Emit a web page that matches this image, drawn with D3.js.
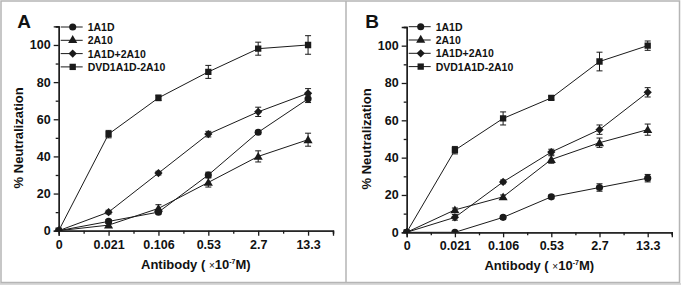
<!DOCTYPE html>
<html lang="en">
<head>
  <meta charset="utf-8" />
  <title>Neutralization panels</title>
  <script type="text/javascript" src="https://cdn.jsdelivr.net/npm/d3@7"></script>
  <style type="text/css">
    body { margin: 0; background: white; }
    text { font-family: "Liberation Sans", Arial, sans-serif; font-weight: bold; fill: #111; }
  </style>
</head>
<body>

<script type="text/javascript">

// doses on the x axis (evenly spaced categories)
var doses = ["0", "0.021", "0.106", "0.53", "2.7", "13.3"];
var seriesNames = ["1A1D", "2A10", "1A1D+2A10", "DVD1A1D-2A10"];
var markerShapes = ["circle", "triangle", "diamond", "square"];
var yTicks = [0, 20, 40, 60, 80, 100];

// panel A
var a1A1D      = [0, 5, 10, 30, 53, 71];
var a1A1DErr   = [0, 1, 1, 1.5, 1, 2];
var a2A10      = [0, 3, 12, 26, 40, 49];
var a2A10Err   = [0, 1, 2, 2.5, 3, 3.5];
var aCombo     = [0, 10, 31, 52, 64, 74];
var aComboErr  = [0, 1, 1, 1.5, 2.5, 2.5];
var aDvd       = [0, 52, 71.5, 85.5, 98, 100];
var aDvdErr    = [0, 2, 1.5, 3.5, 3.5, 5];

// panel B
var b1A1D      = [0, 0, 8, 19, 24, 29];
var b1A1DErr   = [0, 0, 1, 1, 2, 2];
var b2A10      = [0, 12, 19, 39, 48, 55];
var b2A10Err   = [0, 1, 1, 2, 2.5, 3];
var bCombo     = [0, 8, 27, 43, 55, 75];
var bComboErr  = [0, 1.5, 1, 1.5, 2.5, 2.5];
var bDvd       = [0, 44, 61, 72, 91.5, 100];
var bDvdErr    = [0, 2, 3.5, 1, 5, 2.5];

var w = 681;
var h = 285;
var ink = "#1a1a1a";

var svg = d3.select("body")
            .append("svg")
            .attr("width", w)
            .attr("height", h);

// frame round the two panels
svg.append("rect").attr("x", 0).attr("y", 283).attr("width", w).attr("height", 2).attr("fill", "#d8d8d8");
svg.append("rect")
   .attr("x", 1).attr("y", 1).attr("width", 678.5).attr("height", 281.5)
   .attr("fill", "none").attr("stroke", "#b5b5b5").attr("stroke-width", 1.5);
svg.append("line")
   .attr("x1", 346).attr("x2", 346).attr("y1", 1).attr("y2", 282.5)
   .attr("stroke", "#b5b5b5").attr("stroke-width", 1.5);

// wide diamond, like the original markers
var wideDiamond = {
  draw: function(ctx, size) {
    var r = Math.sqrt(size / 2);
    ctx.moveTo(0, -r); ctx.lineTo(r, 0); ctx.lineTo(0, r); ctx.lineTo(-r, 0); ctx.closePath();
  }
};

function symbol(shape, size) {
  var t = { circle: d3.symbolCircle, triangle: d3.symbolTriangle,
            diamond: wideDiamond, square: d3.symbolSquare }[shape];
  return d3.symbol().type(t).size(size)();
}
var symSize = { circle: 40, triangle: 36, diamond: 34, square: 40 };

function drawPanel(p) {
  var g = svg.append("g");
  var xScale = d3.scaleLinear().domain([0, 5.5]).range([p.left, p.right]);
  var yScale = d3.scaleLinear().domain([0, 110]).range([p.bottom, p.top]);

  var clipId = "clip" + p.label;
  svg.append("clipPath").attr("id", clipId)
     .append("rect")
     .attr("x", p.left - 10).attr("y", p.top - 10)
     .attr("width", p.right - p.left + 20).attr("height", p.bottom - p.top + 10);

  // axes
  var xAxis = d3.axisBottom(xScale)
                .tickValues(d3.range(doses.length))
                .tickFormat(function(i) { return doses[i]; })
                .tickSize(5).tickPadding(4);
  var xMinor = d3.axisBottom(xScale)
                 .tickValues([0.5, 1.5, 2.5, 3.5, 4.5, 5.5])
                 .tickFormat("").tickSize(3);
  var yAxis = d3.axisLeft(yScale)
                .tickValues(yTicks)
                .tickSize(5).tickPadding(3);
  var yMinor = d3.axisLeft(yScale)
                 .tickValues([10, 30, 50, 70, 90, 110])
                 .tickFormat("").tickSize(3);

  [xAxis, xMinor].forEach(function(ax) {
    g.append("g").attr("transform", "translate(0," + p.bottom + ")").call(ax);
  });
  [yAxis, yMinor].forEach(function(ax) {
    g.append("g").attr("transform", "translate(" + p.left + ",0)").call(ax);
  });
  g.selectAll(".domain, .tick line").attr("stroke", ink).attr("stroke-width", 1.3);
  g.selectAll(".tick text").attr("fill", ink)
   .style("font-family", "'Liberation Sans', Arial, sans-serif")
   .style("font-weight", "bold").style("font-size", "12.5px");

  // axis titles
  var xt = g.append("text")
            .attr("x", (p.left + p.right) / 2).attr("y", p.bottom + 38)
            .attr("text-anchor", "middle").style("font-size", "13px");
  xt.append("tspan").text("Antibody ( ");
  xt.append("tspan").style("font-size", "10px").style("font-weight", "normal").text("\u00d7");
  xt.append("tspan").text("10");
  xt.append("tspan").attr("dy", -5).style("font-size", "7px").text("-7");
  xt.append("tspan").attr("dy", 5).text("M)");

  g.append("text")
   .attr("transform", "translate(" + (p.left - 36) + "," + yScale(50) + ") rotate(-90)")
   .attr("text-anchor", "middle").style("font-size", "13px")
   .text("% Neutralization");

  g.append("text").attr("x", p.left - 41.5).attr("y", 28.3)
   .style("font-size", "19px").text(p.label);

  // series
  var plot = g.append("g").attr("clip-path", "url(#" + clipId + ")");
  var line = d3.line()
               .x(function(d, i) { return xScale(i); })
               .y(function(d) { return yScale(d); });

  p.series.forEach(function(s, k) {
    plot.append("path").datum(s.values)
        .attr("d", line).attr("fill", "none")
        .attr("stroke", ink).attr("stroke-width", 1);
  });
  p.series.forEach(function(s, k) {
    var shape = markerShapes[k];
    s.values.forEach(function(v, i) {
      var e = s.errors[i];
      var cx = xScale(i);
      if (e > 0) {
        plot.append("line").attr("x1", cx).attr("x2", cx)
            .attr("y1", yScale(v - e)).attr("y2", yScale(v + e))
            .attr("stroke", ink).attr("stroke-width", 1);
        [v - e, v + e].forEach(function(c) {
          plot.append("line").attr("x1", cx - 3).attr("x2", cx + 3)
              .attr("y1", yScale(c)).attr("y2", yScale(c))
              .attr("stroke", ink).attr("stroke-width", 1);
        });
      }
      plot.append("path")
          .attr("d", symbol(shape, symSize[shape]))
          .attr("transform", "translate(" + cx + "," + (yScale(v) + (shape == "triangle" ? 0.8 : 0)) + ")")
          .attr("fill", ink);
    });
  });

  // legend
  var lg = g.append("g");
  seriesNames.forEach(function(name, k) {
    var y = p.legendTop + k * 13.3;
    lg.append("line").attr("x1", p.left + 2).attr("x2", p.left + 24)
      .attr("y1", y).attr("y2", y).attr("stroke", ink).attr("stroke-width", 1);
    lg.append("path").attr("d", symbol(markerShapes[k], symSize[markerShapes[k]]))
      .attr("transform", "translate(" + (p.left + 14) + "," + y + ")").attr("fill", ink);
    lg.append("text").attr("x", p.left + 29).attr("y", y + 4)
      .style("font-size", "10.5px").text(name);
  });
}

drawPanel({
  label: "A", left: 58.7, right: 333, top: 26.4, bottom: 230.7, legendTop: 27,
  series: [
    { values: a1A1D, errors: a1A1DErr },
    { values: a2A10, errors: a2A10Err },
    { values: aCombo, errors: aComboErr },
    { values: aDvd, errors: aDvdErr }
  ]
});

drawPanel({
  label: "B", left: 406.7, right: 671.8, top: 27, bottom: 232.3, legendTop: 26.7,
  series: [
    { values: b1A1D, errors: b1A1DErr },
    { values: b2A10, errors: b2A10Err },
    { values: bCombo, errors: bComboErr },
    { values: bDvd, errors: bDvdErr }
  ]
});

</script>

</body>
</html>
